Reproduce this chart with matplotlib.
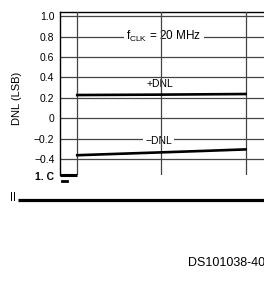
#!/usr/bin/env python3

import matplotlib
matplotlib.use("Agg")
import matplotlib.pyplot as plt
from matplotlib.lines import Line2D

# chart data
x_pos = [0, 0.5, 1.0, 1.5, 2.0]
plus_dnl = [0.228, 0.230, 0.232, 0.235, 0.238]
minus_dnl = [-0.362, -0.348, -0.334, -0.320, -0.305]
y_ticks = [1.0, 0.8, 0.6, 0.4, 0.2, 0, -0.2, -0.4]
y_tick_labels = ["1.0", "0.8", "0.6", "0.4", "0.2", "0", "\u22120.2", "\u22120.4"]
x_grid = [0, 1, 2]
fig_id = "DS101038-40"

W, H = 264, 282
plt.rcParams['font.family'] = ['Liberation Sans', 'DejaVu Sans']
plt.rcParams['mathtext.default'] = 'regular'

fig = plt.figure(figsize=(W / 100, H / 100), dpi=100)


def fx(px):
	return px / W


def fy(py):
	return 1 - py / H


# axes box in pixels: left 60, top 11.7, bottom 175, runs off the right edge
ax = fig.add_axes([fx(60), fy(175), fx(275) - fx(60), fy(11.7) - fy(175)])
ax.set_xlim(-0.205, 2.35)
ax.set_ylim(-0.556, 1.045)

for s in ['bottom', 'right']:
	ax.spines[s].set_visible(False)
for s in ['top', 'left']:
	ax.spines[s].set_linewidth(1.0)
	ax.spines[s].set_color('black')

ax.set_xticks([])
ax.set_yticks(y_ticks)
ax.set_yticklabels(y_tick_labels)
ax.tick_params(axis='y', length=0, pad=4, labelsize=7.5)

# grid
for yv in y_ticks:
	ax.axhline(yv, color='#444444', lw=0.9, zorder=1)
for xv in x_grid:
	ax.axvline(xv, color='#444444', lw=0.9, zorder=3)

# curves
ax.plot(x_pos, plus_dnl, color='black', lw=1.9, zorder=4)
ax.plot(x_pos, minus_dnl, color='black', lw=1.9, zorder=4)

# little thick stub at the bottom-left of the box
ybot = ax.get_ylim()[0]
ax.plot([ax.get_xlim()[0], 0], [ybot, ybot], color='black', lw=2.2,
		clip_on=False, solid_capstyle='butt', zorder=5)

# labels
box = dict(facecolor='white', edgecolor='none', pad=1.5)
ax.text(1.03, 0.8, "f$_{CLK}$ = 20 MHz", ha='center', va='center',
		fontsize=8.5, bbox=box, zorder=2)
ax.text(0.98, 0.335, "+DNL", ha='center', va='center', fontsize=7.5, zorder=2)
ax.text(0.97, -0.224, "\u2212DNL", ha='center', va='center', fontsize=7.5,
		bbox=box, zorder=2)

fig.text(fx(17), fy(98), "DNL (LSB)", rotation=90, ha='center', va='center',
		 fontsize=8)

# scan leftovers under the chart
fig.text(fx(35), fy(176.5), "1. C", ha='left', va='center', fontsize=7.5,
		 fontweight='bold')
fig.add_artist(Line2D([fx(62), fx(67)], [fy(181), fy(181)], color='black', lw=2))
fig.add_artist(Line2D([fx(18), fx(264)], [fy(199.5), fy(199.5)], color='black',
					  lw=2.3, solid_capstyle='butt'))
for tx in [11, 14]:
	fig.add_artist(Line2D([fx(tx), fx(tx)], [fy(192), fy(200)], color='black', lw=0.7))

fig.text(fx(188), fy(263), fig_id, ha='left', va='center', fontsize=9)

fig.savefig("out.png", dpi=100)
